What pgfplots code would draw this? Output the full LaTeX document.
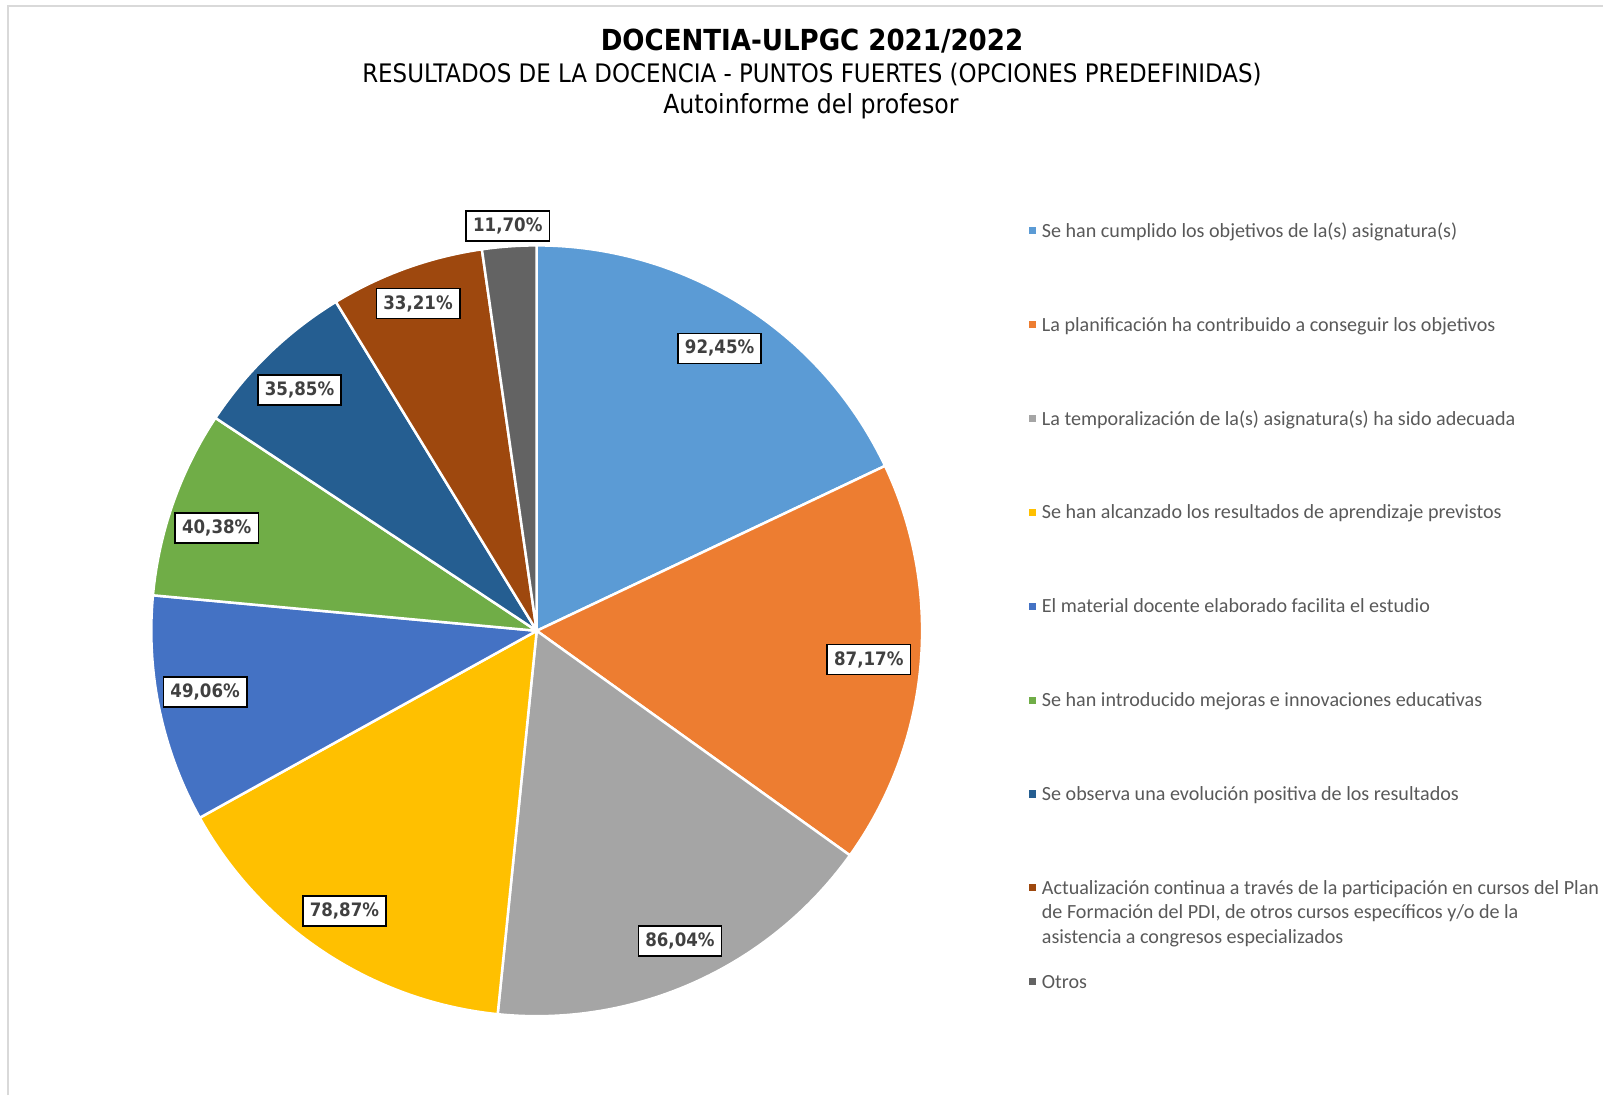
\documentclass[border=0pt]{standalone}
\usepackage{pgfplots}
\pgfplotsset{compat=1.18}
\usepackage{fontspec}
\setmainfont{Carlito}
\newfontfamily\tahoma{DejaVu Sans Condensed}

\definecolor{c1}{HTML}{5B9BD5}
\definecolor{c2}{HTML}{ED7D31}
\definecolor{c3}{HTML}{A5A5A5}
\definecolor{c4}{HTML}{FFC000}
\definecolor{c5}{HTML}{4472C4}
\definecolor{c6}{HTML}{70AD47}
\definecolor{c7}{HTML}{255E91}
\definecolor{c8}{HTML}{9E480E}
\definecolor{c9}{HTML}{636363}
\definecolor{legtext}{HTML}{595959}
\definecolor{lbltext}{HTML}{404040}
\definecolor{frame}{HTML}{D9D9D9}

% share of each answer (%), in legend order
% \slice{value}{colour}{label radius}{label angle shift}
\newcommand\pieslices{%
  \slice{92.45}{c1}{0.873}{-0.6}%
  \slice{87.17}{c2}{0.865}{0.2}%
  \slice{86.04}{c3}{0.887}{0.5}%
  \slice{78.87}{c4}{0.882}{-1.06}%
  \slice{49.06}{c5}{0.875}{-1.38}%
  \slice{40.38}{c6}{0.872}{1.64}%
  \slice{35.85}{c7}{0.877}{0.63}%
  \slice{33.21}{c8}{0.903}{0.14}%
  \slice{11.70}{c9}{1.053}{0}%
}

% first pass: total of all values
\def\total{0}
\newcommand\slice[4]{\pgfmathsetmacro\total{\total+#1}}
\pieslices

\pgfkeys{/pgf/number format/.cd, fixed, fixed zerofill, precision=2, use comma, assume math mode=true}

\begin{document}
\begin{tikzpicture}[x=1pt,y=1pt]
\path[use as bounding box] (0,0) rectangle (1603,1095);
\draw[frame, line width=2pt] (8,0) -- (8,1089) -- (1603,1089);

\node[anchor=base] at (812,1044) {\tahoma\bfseries\fontsize{29}{34}\selectfont DOCENTIA-ULPGC 2021/2022};
\node[anchor=base] at (812,1012.2) {\tahoma\fontsize{25.5}{30}\selectfont RESULTADOS DE LA DOCENCIA - PUNTOS FUERTES (OPCIONES PREDEFINIDAS)};
\node[anchor=base] at (811,981.5) {\tahoma\fontsize{26.3}{30}\selectfont Autoinforme del profesor};

\begin{axis}[
  at={(536.7pt,464.2pt)}, anchor=center,
  width=770.8pt, height=770.8pt, scale only axis,
  xmin=-1, xmax=1, ymin=-1, ymax=1,
  hide axis, clip=false,
  legend image code/.code={\fill[#1, draw=none] (0pt,2.9pt) rectangle (7.2pt,10.1pt);},
  legend cell align=left,
  legend style={
    at={(axis cs:1.2758,1.0658)}, anchor=north west,
    draw=none, fill=none, inner sep=0pt,
    column sep=6.1pt, row sep=0pt,
    cells={anchor=base west},
    nodes={inner sep=0pt, text height=17.15pt, text depth=76.7pt},
    font=\fontsize{20.1}{24.5}\selectfont, text=legtext,
  },
]
% slices
\def\aStart{90}
\renewcommand\slice[4]{%
  \pgfmathsetmacro\aEnd{\aStart-360*(#1/\total)}%
  \edef\tmp{\noexpand\addplot[fill=#2, draw=white, line width=2.5pt, line join=round,
    domain=\aEnd:\aStart, samples=120, forget plot]
    ({cos(x)},{sin(x)}) -- (axis cs:0,0) -- cycle;}\tmp
  \xdef\aStart{\aEnd}%
}
\pieslices
% data labels
\def\aStart{90}
\renewcommand\slice[4]{%
  \pgfmathsetmacro\aEnd{\aStart-360*(#1/\total)}%
  \pgfmathsetmacro\aMid{(\aStart+\aEnd)/2+#4}%
  \edef\tmp{\noexpand\node[draw=black, line width=1.6pt, fill=white, text=lbltext,
    inner xsep=7pt, inner ysep=0pt, minimum height=30pt,
    font=\noexpand\tahoma\noexpand\bfseries\noexpand\fontsize{18.5}{22}\noexpand\selectfont]
    at (axis cs:{#3*cos(\aMid)},{#3*sin(\aMid)}) {\noexpand\pgfmathprintnumber{#1}\noexpand\%};}\tmp
  \xdef\aStart{\aEnd}%
}
\pieslices

\addlegendimage{fill=c1}\addlegendentry{\parbox[t]{580pt}{\strut Se han cumplido los objetivos de la(s) asignatura(s)}}
\addlegendimage{fill=c2}\addlegendentry{\parbox[t]{580pt}{\strut La planificación ha contribuido a conseguir los objetivos}}
\addlegendimage{fill=c3}\addlegendentry{\parbox[t]{580pt}{\strut La temporalización de la(s) asignatura(s) ha sido adecuada}}
\addlegendimage{fill=c4}\addlegendentry{\parbox[t]{580pt}{\strut Se han alcanzado los resultados de aprendizaje previstos}}
\addlegendimage{fill=c5}\addlegendentry{\parbox[t]{580pt}{\strut El material docente elaborado facilita el estudio}}
\addlegendimage{fill=c6}\addlegendentry{\parbox[t]{580pt}{\strut Se han introducido mejoras e innovaciones educativas}}
\addlegendimage{fill=c7}\addlegendentry{\parbox[t]{580pt}{\strut Se observa una evolución positiva de los resultados}}
\addlegendimage{fill=c8}\addlegendentry{\parbox[t]{580pt}{\strut Actualización continua a través de la participación en cursos del Plan\\de Formación del PDI, de otros cursos específicos y/o de la\\asistencia a congresos especializados}}
\addlegendimage{fill=c9}\addlegendentry{\parbox[t]{580pt}{\strut Otros}}
\end{axis}
\end{tikzpicture}
\end{document}
